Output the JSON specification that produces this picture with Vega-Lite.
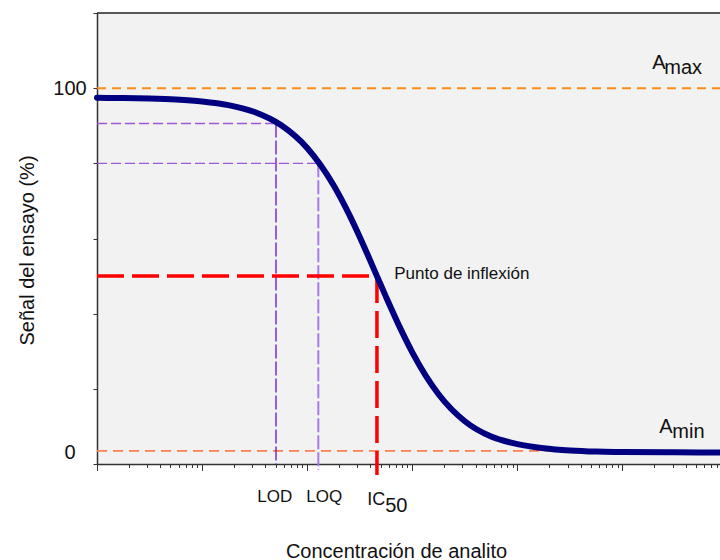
{
  "$schema": "https://vega.github.io/schema/vega-lite/v6.json",
  "width": 623,
  "height": 451,
  "autosize": {"type": "none"},
  "padding": {"left": 97, "top": 13, "right": 0, "bottom": 96},
  "background": "white",
  "config": {
    "font": "Liberation Sans",
    "view": {"stroke": null, "fill": "#f2f2f2"},
    "axis": {"grid": false, "domainColor": "#333333", "domainWidth": 1.5, "tickColor": "#333333", "tickWidth": 1, "labelColor": "#111111", "titleColor": "#111111", "titleFontWeight": "normal", "titleFontSize": 20, "labelFontSize": 20}
  },
  "layer": [
    {
      "data": {"values": [{"c": 1, "s": 100}, {"c": 847000, "s": 100}]},
      "mark": {"type": "rule", "color": "#ff8c1a", "strokeWidth": 2, "strokeDash": [9, 6]},
      "encoding": {
        "x": {"aggregate": "min", "field": "c", "type": "quantitative",
          "scale": {"type": "log", "domain": [1, 847000], "nice": false},
          "axis": {
            "values": [1,2,3,4,5,6,7,8,9,10,20,30,40,50,60,70,80,90,100,200,300,400,500,600,700,800,900,1000,2000,3000,4000,5000,6000,7000,8000,9000,10000,20000,30000,40000,50000,60000,70000,80000,90000,100000,200000,300000,400000,500000,600000,700000,800000],
            "labels": false,
            "tickSize": {"condition": {"test": "abs(log(datum.value)/LN10 - round(log(datum.value)/LN10)) < 0.01", "value": 6.5}, "value": 3.5},
            "title": "Concentración de analito",
            "titleX": 299, "titleY": 93, "titleAlign": "center", "titleBaseline": "alphabetic"
          }
        },
        "x2": {"aggregate": "max", "field": "c"},
        "y": {"aggregate": "min", "field": "s", "type": "quantitative",
          "scale": {"domain": [0, 120], "nice": false},
          "axis": {
            "values": [0,10,20,30,40,50,60,70,80,90,100,110,120],
            "labelExpr": "datum.value % 50 === 0 ? datum.label : ''",
            "labelAlign": "center",
            "labelPadding": 23.5,
            "tickSize": 4,
            "labelOffset": {"condition": {"test": "datum.value === 0", "value": -12}, "value": 0},
            "title": "Señal del ensayo (%)",
            "titleX": -64, "titleY": 237, "titleAlign": "center", "titleBaseline": "alphabetic"
          }
        }
      }
    },
    {
      "data": {"values": [{"c": 1, "c2": 847000, "s": 3.47}]},
      "mark": {"type": "rule", "color": "#ff7f50", "strokeWidth": 1.8, "strokeDash": [10, 6]},
      "encoding": {"x": {"field": "c", "type": "quantitative"}, "x2": {"field": "c2"}, "y": {"field": "s", "type": "quantitative"}}
    },
    {
      "data": {"values": [{"c": 1, "c2": 50.5, "s": 90.6}, {"c": 1, "c2": 127.6, "s": 80}]},
      "mark": {"type": "rule", "color": "#9b59d9", "strokeWidth": 1.3, "strokeDash": [10, 4]},
      "encoding": {"x": {"field": "c", "type": "quantitative"}, "x2": {"field": "c2"}, "y": {"field": "s", "type": "quantitative"}}
    },
    {
      "data": {"values": [{"c": 50.5, "s": 90.6, "s2": 0}]},
      "mark": {"type": "rule", "color": "#6a0dd0", "strokeWidth": 1.3, "strokeDash": [14, 3]},
      "encoding": {"x": {"field": "c", "type": "quantitative"}, "y": {"field": "s", "type": "quantitative"}, "y2": {"field": "s2"}}
    },
    {
      "data": {"values": [{"c": 127.6, "s": 80, "s2": -1.6}]},
      "mark": {"type": "rule", "color": "#a77ce6", "strokeWidth": 2, "strokeDash": [14, 3]},
      "encoding": {"x": {"field": "c", "type": "quantitative"}, "y": {"field": "s", "type": "quantitative"}, "y2": {"field": "s2"}}
    },
    {
      "data": {"values": [{"c": 1, "c2": 461, "s": 50}]},
      "mark": {"type": "rule", "color": "#ff0000", "strokeWidth": 3.5, "strokeDash": [27, 8]},
      "encoding": {"x": {"field": "c", "type": "quantitative"}, "x2": {"field": "c2"}, "y": {"field": "s", "type": "quantitative"}}
    },
    {
      "data": {"values": [{"c": 461, "s": 50, "s2": -2.9}]},
      "mark": {"type": "rule", "color": "#ff0000", "strokeWidth": 3.5, "strokeDash": [27, 8]},
      "encoding": {"x": {"field": "c", "type": "quantitative"}, "y": {"field": "s", "type": "quantitative"}, "y2": {"field": "s2"}}
    },
    {
      "data": {"values": [{"s": 120}]},
      "mark": {"type": "rule", "color": "#222222", "strokeWidth": 1.5},
      "encoding": {"y": {"field": "s", "type": "quantitative"}}
    },
    {
      "data": {"values": [
        {"c": 1, "s": 97.43}, {"c": 1.778, "s": 97.37}, {"c": 3.162, "s": 97.24}, {"c": 5.623, "s": 96.98},
        {"c": 10, "s": 96.48}, {"c": 17.78, "s": 95.5}, {"c": 31.62, "s": 93.64}, {"c": 56.23, "s": 90.18},
        {"c": 100, "s": 84.07}, {"c": 177.8, "s": 74.21}, {"c": 251.2, "s": 66.34}, {"c": 316.2, "s": 60.42},
        {"c": 461, "s": 50.0}, {"c": 562.3, "s": 44.48}, {"c": 794.3, "s": 35.28}, {"c": 1000, "s": 29.71},
        {"c": 1778, "s": 18.56}, {"c": 3162, "s": 11.38}, {"c": 5623, "s": 7.3}, {"c": 10000, "s": 5.3},
        {"c": 17783, "s": 4.2}, {"c": 31623, "s": 3.6}, {"c": 56234, "s": 3.3}, {"c": 100000, "s": 3.2},
        {"c": 316228, "s": 3.1}, {"c": 847000, "s": 3.05}
      ]},
      "mark": {"type": "line", "color": "#000080", "strokeWidth": 6, "strokeCap": "round", "interpolate": "monotone"},
      "encoding": {"x": {"field": "c", "type": "quantitative"}, "y": {"field": "s", "type": "quantitative"}}
    },
    {
      "data": {"values": [
        {"c": 192300, "s": 105.07, "t": "A"}, {"c": 250000, "s": 103.73, "t": "max"},
        {"c": 223900, "s": 8.27, "t": "A"}, {"c": 297800, "s": 6.93, "t": "min"},
        {"c": 553, "s": -12.8, "t": "50"}
      ]},
      "mark": {"type": "text", "fontSize": 20, "align": "left", "baseline": "alphabetic", "color": "#111111"},
      "encoding": {"x": {"field": "c", "type": "quantitative"}, "y": {"field": "s", "type": "quantitative"}, "text": {"field": "t"}}
    },
    {
      "data": {"values": [{"c": 373, "s": -10.93, "t": "IC"}]},
      "mark": {"type": "text", "fontSize": 18, "align": "left", "baseline": "alphabetic", "color": "#111111"},
      "encoding": {"x": {"field": "c", "type": "quantitative"}, "y": {"field": "s", "type": "quantitative"}, "text": {"field": "t"}}
    },
    {
      "data": {"values": [
        {"c": 674, "s": 49.33, "t": "Punto de inflexión"},
        {"c": 33.5, "s": -10.13, "t": "LOD"},
        {"c": 98.0, "s": -10.13, "t": "LOQ"}
      ]},
      "mark": {"type": "text", "fontSize": 17, "align": "left", "baseline": "alphabetic", "color": "#111111"},
      "encoding": {"x": {"field": "c", "type": "quantitative"}, "y": {"field": "s", "type": "quantitative"}, "text": {"field": "t"}}
    }
  ]
}
